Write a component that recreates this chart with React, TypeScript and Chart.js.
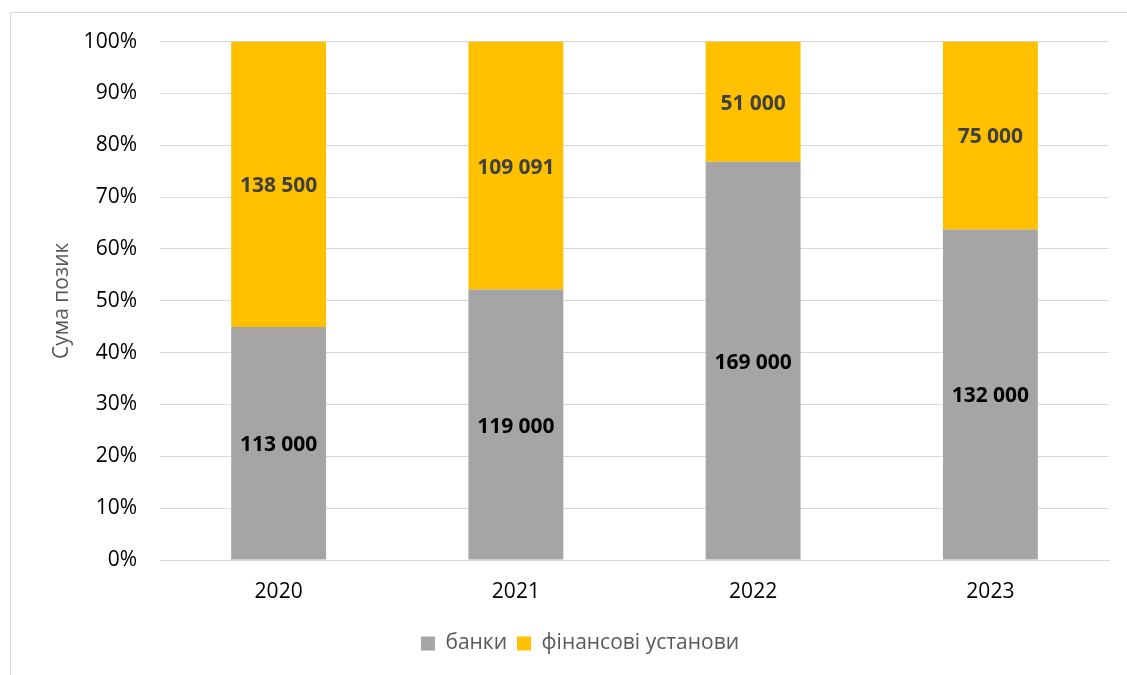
import React, { useEffect, useRef } from "react";
import { Chart, registerables } from "chart.js";

Chart.register(...registerables);

const years = ["2020", "2021", "2022", "2023"];
const banks = [113000, 119000, 169000, 132000];
const finInstitutions = [138500, 109091, 51000, 75000];
const seriesNames = ["банки", "фінансові установи"];
const yTitle = "Сума позик";

const FONT = "'Open Sans', 'DejaVu Sans', sans-serif";

const fmt = (v: number) => String(v).replace(/\B(?=(\d{3})+(?!\d))/g, " ");

const totals = years.map((_, i) => banks[i] + finInstitutions[i]);
const banksPct = banks.map((v, i) => (v / totals[i]) * 100);
const finPct = finInstitutions.map((v, i) => (v / totals[i]) * 100);
const rawValues = [banks, finInstitutions];
const labelColors = ["#000000", "#404040"];

const valueLabels = {
  id: "valueLabels",
  afterDatasetsDraw(chart: any) {
    const ctx = chart.ctx;
    ctx.save();
    ctx.font = `bold 21px ${FONT}`;
    ctx.textAlign = "center";
    ctx.textBaseline = "middle";
    chart.data.datasets.forEach((ds: any, di: number) => {
      const meta = chart.getDatasetMeta(di);
      meta.data.forEach((el: any, i: number) => {
        const cy = (el.y + el.base) / 2 + 2;
        ctx.fillStyle = labelColors[di];
        ctx.fillText(fmt(rawValues[di][i]), el.x, cy);
      });
    });
    ctx.restore();
  },
};

const legendShift = {
  id: "legendShift",
  afterLayout(chart: any) {
    if (chart.legend) {
      chart.legend.left += 20;
      chart.legend.right += 20;
    }
  },
};

export default function App() {
  const ref = useRef<HTMLCanvasElement>(null);
  useEffect(() => {
    if (!ref.current) return;
    const chart = new Chart(ref.current, {
      type: "bar",
      data: {
        labels: years,
        datasets: [
          { label: seriesNames[0], data: banksPct, backgroundColor: "#A5A5A5" },
          { label: seriesNames[1], data: finPct, backgroundColor: "#FFC000" },
        ],
      },
      options: {
        responsive: false,
        animation: false,
        layout: { padding: { left: 0, top: 21, right: 16, bottom: 11 } },
        datasets: { bar: { barPercentage: 0.8, categoryPercentage: 0.5 } },
        plugins: {
          legend: {
            position: "bottom",
            labels: {
              boxWidth: 14,
              boxHeight: 14,
              padding: 10,
              color: "#595959",
              font: { family: FONT, size: 21 },
            },
          },
          tooltip: { enabled: false },
        },
        scales: {
          x: {
            stacked: true,
            grid: { display: false },
            border: { color: "#D9D9D9" },
            ticks: { color: "#000000", padding: 11, font: { family: FONT, size: 21 } },
            afterFit: (s: any) => {
              s.height = 63;
            },
          },
          y: {
            stacked: true,
            min: 0,
            max: 100,
            border: { display: false },
            grid: { color: "#D9D9D9", drawTicks: false },
            ticks: {
              stepSize: 10,
              padding: 23,
              color: "#000000",
              font: { family: FONT, size: 21 },
              callback: (v: any) => v + "%",
            },
            title: {
              display: true,
              text: yTitle,
              color: "#595959",
              font: { family: FONT, size: 21 },
              padding: { top: 38, bottom: 0 },
            },
            afterFit: (s: any) => {
              s.width = 149;
            },
          },
        },
      },
      plugins: [valueLabels, legendShift],
    });
    return () => chart.destroy();
  }, []);
  return (
    <div
      style={{
        position: "absolute",
        left: 10,
        top: 12,
        width: 1125,
        height: 670,
        border: "1px solid #D9D9D9",
        boxSizing: "border-box",
        background: "#fff",
      }}
    >
      <canvas
        ref={ref}
        width={1114}
        height={669}
        style={{ position: "absolute", left: 0, top: -7, display: "block", width: 1114, height: 669 }}
      />
    </div>
  );
}
